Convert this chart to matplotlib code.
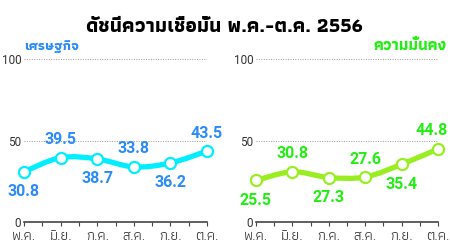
import matplotlib
matplotlib.use("Agg")
import matplotlib.pyplot as plt
from matplotlib.path import Path
from matplotlib.patches import PathPatch

months = ["พ.ค.", "มิ.ย.", "ก.ค.", "ส.ค.", "ก.ย.", "ต.ค."]
economy = [30.8, 39.5, 38.7, 33.8, 36.2, 43.5]
security = [25.5, 30.8, 27.3, 27.6, 35.4, 44.8]
yticks = [0, 50, 100]

title = "ดัชนีความเชื่อมั่น พ.ค.-ต.ค. 2556"
sub_left = "เศรษฐกิจ"
sub_right = "ความมั่นคง"

thai_fam = ["Athiti", "Kanit", "DejaVu Sans"]
num_fam = ["Roboto", "DejaVu Sans"]


def smooth_path(xs, ys):
    # catmull-rom as cubic bezier segments through the data points
    verts = [(xs[0], ys[0])]
    codes = [Path.MOVETO]
    n = len(xs)
    for i in range(n - 1):
        x0, y0 = xs[max(i - 1, 0)], ys[max(i - 1, 0)]
        x1, y1 = xs[i], ys[i]
        x2, y2 = xs[i + 1], ys[i + 1]
        x3, y3 = xs[min(i + 2, n - 1)], ys[min(i + 2, n - 1)]
        verts += [(x1 + (x2 - x0) / 6, y1 + (y2 - y0) / 6),
                  (x2 - (x3 - x1) / 6, y2 - (y3 - y1) / 6),
                  (x2, y2)]
        codes += [Path.CURVE4] * 3
    return Path(verts, codes)


fig = plt.figure(figsize=(4.5, 2.5), dpi=100)
renderer = fig.canvas.get_renderer()


def fit(t, width_px):
    w = t.get_window_extent(renderer).width
    t.set_fontsize(t.get_fontsize() * width_px / w)


def panel(ax, vals, line_col, text_col):
    xs = list(range(len(vals)))
    ax.set_xlim(0, len(vals) - 1)
    ax.set_ylim(0, 100)
    for s in ["top", "right", "left"]:
        ax.spines[s].set_visible(False)
    ax.spines["bottom"].set_color("#444444")
    ax.spines["bottom"].set_linewidth(1.2)
    for g in [50, 100]:
        ax.axhline(g, color="#999999", lw=0.7, ls=(0, (1, 1.5)), zorder=1)
    ax.add_patch(PathPatch(smooth_path(xs, vals), fill=False, ec=line_col, lw=3.8,
                           zorder=2, clip_on=False, capstyle="round"))
    ax.plot(xs, vals, "o", ms=8, mfc="white", mec=line_col, mew=1.6, zorder=3, clip_on=False)
    for i, v in enumerate(vals):
        off = -20 if i % 2 == 0 else 18
        t = ax.annotate(f"{v:.1f}", (i, v), xytext=(0, off), textcoords="offset pixels",
                        ha="center", va="center", color=text_col, fontsize=11.5,
                        fontweight="bold", family=num_fam, zorder=4)
        # keep the label inside the figure
        bb = t.get_window_extent(renderer)
        if bb.x1 > fig.bbox.width - 2:
            t.set_position((-(bb.x1 - fig.bbox.width + 2), off))
    ax.set_yticks(yticks)
    ax.set_yticklabels([str(t) for t in yticks], family=num_fam, fontsize=8.5, color="#333333")
    ax.tick_params(axis="y", length=0, pad=2)
    ax.set_xticks([x * 0.5 for x in range(2 * len(vals) - 1)])
    ax.set_xticklabels([months[i // 2] if i % 2 == 0 else "" for i in range(2 * len(vals) - 1)],
                       family=thai_fam, fontsize=10.5, color="#333333")
    ax.tick_params(axis="x", length=3, width=0.8, color="#444444", pad=3)


ax1 = fig.add_axes([24 / 450, 28 / 250, 183 / 450, 163 / 250])
ax2 = fig.add_axes([256 / 450, 28 / 250, 182 / 450, 163 / 250])
panel(ax1, economy, "#00eeff", "#2b8cf5")
panel(ax2, security, "#99ee22", "#22ee11")

t = fig.text(224 / 450, 0.89, title, ha="center", va="center", fontsize=20, fontweight="bold",
             family=thai_fam, color="black")
fit(t, 276)
t = fig.text(24 / 450, 0.815, sub_left, ha="left", va="center", fontsize=12, fontweight="bold",
             family=thai_fam, color="#2b8cf5")
fit(t, 55)
t = fig.text(447 / 450, 0.815, sub_right, ha="right", va="center", fontsize=12, fontweight="bold",
             family=thai_fam, color="#22ee11")
fit(t, 74)

fig.savefig("out.png", dpi=100)
